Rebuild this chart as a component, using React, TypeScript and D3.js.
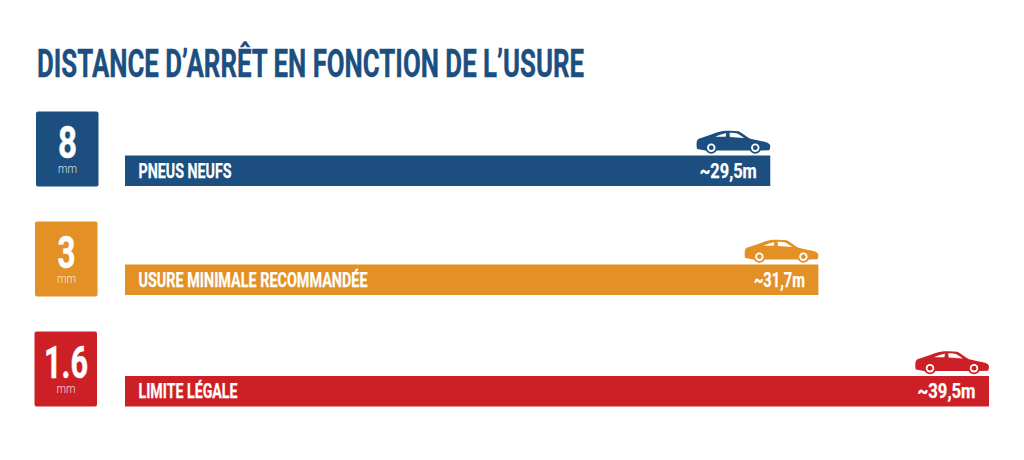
import React from "react";
import * as d3 from "d3";

const width = 1024;
const height = 460;

const title = "DISTANCE D’ARRÊT EN FONCTION DE L’USURE";
const treadDepths = ["8", "3", "1.6"];
const categories = ["PNEUS NEUFS", "USURE MINIMALE RECOMMANDÉE", "LIMITE LÉGALE"];
const distances = [29.5, 31.7, 39.5];
const distanceLabels = ["~29,5m", "~31,7m", "~39,5m"];
const colors = ["#1c4f80", "#e39025", "#cd2026"];

// measured per row, the rows are not evenly spaced in the picture
const barTops = [155.5, 264.5, 376];
const boxX = [36, 35, 34.5];
const boxTops = [111.5, 221.5, 331.5];
const numberWidths = [19, 18, 44];
const categoryWidths = [93, 229, 99];
const valueWidths = [57, 51, 58];

const x = d3.scaleLinear().domain([0, 39.5]).range([125, 989]);

const condensed = "Roboto, sans-serif";

// car icon, 75 wide, sits a little above the bar
const carBody =
  "M1.4 11 C1.6 9 2.2 8 3.4 7.2 C8 5.8 12.5 4.4 16.7 2.8 C21 1 25.5 -0.4 30 -0.7 C35 -1 39.5 -0.8 43.4 -0.2 C47.5 2 51 5 55 7.2 C61 8.6 67 9.6 71.7 11 C73.6 11.8 75 13 75 14.5 C75 16.5 74.6 17.8 74 18.8 L66 19 L10 19 L1.8 17.5 C1.2 15.5 1.2 13 1.4 11 Z";
const carWindows = [
  "M20 5.2 C24 3.4 27.5 2.2 31 1.8 L30.4 5.2 Z",
  "M34.2 1.4 C37 1.2 39.6 1.4 42 2 C44.5 3.4 47 5 49 6.4 L34.6 5.4 Z",
];
const wheelX = [16, 60];

function Car({ color, right, bottom }: { color: string; right: number; bottom: number }) {
  return (
    <g transform={`translate(${right - 75},${bottom - 24})`}>
      <path d={carBody} fill={color} />
      {carWindows.map((d, i) => (
        <path key={i} d={d} fill="#ffffff" />
      ))}
      {wheelX.map((cx) => (
        <g key={cx}>
          <circle cx={cx} cy={16.2} r={6} fill={color} />
          <circle cx={cx} cy={16.2} r={4.2} fill="#ffffff" />
          <circle cx={cx} cy={16.2} r={2.4} fill={color} />
        </g>
      ))}
    </g>
  );
}

const App = () => {
  const rowHeight = 30.5;
  return (
    <svg
      width={width}
      height={height}
      viewBox={`0 0 ${width} ${height}`}
      style={{ position: "absolute", left: 0, top: 0, background: "#ffffff" }}
      fontFamily={condensed}
      fontWeight={700}
    >
      <text
        x={37}
        y={77}
        fontSize={38}
        fill={colors[0]}
        stroke={colors[0]}
        strokeWidth={0.4}
        textLength={547}
        lengthAdjust="spacingAndGlyphs"
      >
        {title}
      </text>

      {categories.map((cat, i) => {
        const barRight = x(distances[i]);
        return (
          <g key={cat}>
            <rect x={boxX[i]} y={boxTops[i]} width={62.5} height={75} rx={2} fill={colors[i]} />
            <text
              x={boxX[i] + 31.5}
              y={boxTops[i] + 46}
              fontSize={44}
              fill="#ffffff"
              stroke="#ffffff"
              strokeWidth={0.5}
              textAnchor="middle"
              textLength={numberWidths[i]}
              lengthAdjust="spacingAndGlyphs"
            >
              {treadDepths[i]}
            </text>
            <text
              x={boxX[i] + 31.5}
              y={boxTops[i] + 61}
              fontSize={12}
              fontWeight={300}
              fill="#ffffff"
              fillOpacity={0.85}
              textAnchor="middle"
              textLength={19}
              lengthAdjust="spacingAndGlyphs"
            >
              mm
            </text>

            <rect
              x={x(0)}
              y={barTops[i]}
              width={barRight - x(0)}
              height={rowHeight}
              fill={colors[i]}
            />
            <text
              x={138.5}
              y={barTops[i] + 22}
              fontSize={19.5}
              fill="#ffffff"
              stroke="#ffffff"
              strokeWidth={0.25}
              textLength={categoryWidths[i]}
              lengthAdjust="spacingAndGlyphs"
            >
              {cat}
            </text>
            <text
              x={barRight - 13.5}
              y={barTops[i] + 22}
              fontSize={21}
              fill="#ffffff"
              stroke="#ffffff"
              strokeWidth={0.25}
              textAnchor="end"
              textLength={valueWidths[i]}
              lengthAdjust="spacingAndGlyphs"
            >
              {distanceLabels[i]}
            </text>
            <Car color={colors[i]} right={barRight} bottom={barTops[i]} />
          </g>
        );
      })}
    </svg>
  );
};

export default App;
